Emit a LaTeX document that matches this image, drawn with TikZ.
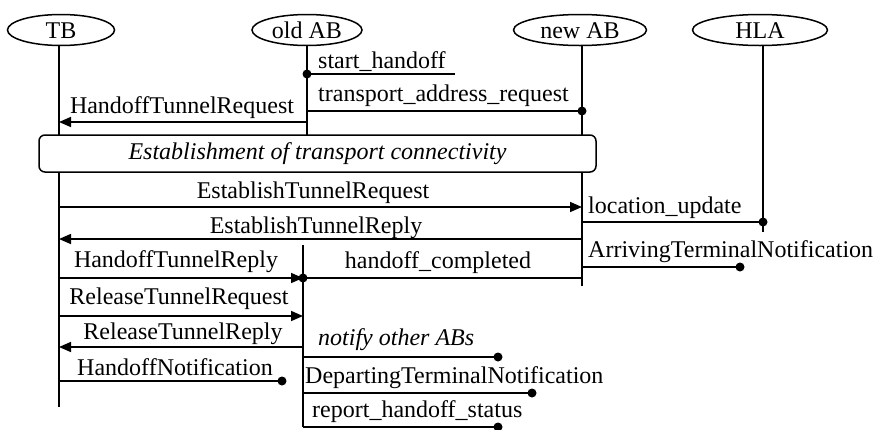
\documentclass[tikz,border=0pt]{standalone}
\usepackage{fontspec}
\setmainfont{Liberation Serif}
\usetikzlibrary{arrows.meta,shapes.geometric}
\begin{document}
\begin{tikzpicture}[x=1pt,y=-1pt,
  every node/.style={font=\fontsize{24}{28}\selectfont},
  actor/.style={draw, ellipse, line width=1.5pt, minimum height=31pt, inner sep=0pt,
                text height=16pt, text depth=0pt},
  life/.style={line width=1.6pt},
  msgline/.style={line width=1.6pt},
  arr/.style={msgline, -{Triangle[length=12pt,width=10pt]}},
  lbl/.style={anchor=base west, inner sep=0pt},
  lblc/.style={anchor=base, inner sep=0pt},
  dot/.style={circle, fill, inner sep=0pt, minimum size=9pt},
  phase/.style={draw, fill=white, rounded corners=6pt, line width=1.5pt,
                minimum width=557pt, minimum height=37pt, inner sep=0pt}
]
\useasboundingbox (0,0) rectangle (879,429);

% participants
\node[actor, minimum width=107pt] (tb)  at (61,30)  {TB};
\node[actor, minimum width=110pt] (oab) at (307,30) {old AB};
\node[actor, minimum width=133pt] (nab) at (580,30) {new AB};
\node[actor, minimum width=135pt] (hla) at (760,30) {HLA};

% lifeline ends
\coordinate (tbT)  at (59,45);   \coordinate (tbB)  at (59,407);
\coordinate (oabT) at (307,45);  \coordinate (oabM) at (307,135);
\coordinate (oabL) at (303,245); \coordinate (oabB) at (303,427);
\coordinate (nabT) at (582,45);  \coordinate (nabB) at (582,286);
\coordinate (hlaT) at (763,45);  \coordinate (hlaB) at (763,232);

\draw[life] (tbT) -- (tbB);
\draw[life] (oabT) -- (oabM);
\draw[life] (oabL) -- (oabB);
\draw[life] (nabT) -- (nabB);
\draw[life] (hlaT) -- (hlaB);

% phase box
\node[phase] (est) at (317.5,153.5) {\itshape Establishment of transport connectivity};

% start_handoff
\node[dot] (d1) at (oabT |- 0,74) {};
\coordinate (e1) at (455,74);
\draw[msgline] (d1.center) -- (e1);
\node[lbl] (l1) at (318,68) {start\_handoff};

% transport_address_request
\node[dot] (d2) at (nabT |- 0,111) {};
\draw[msgline] (oabT |- d2) -- (d2.center);
\node[lbl] (l2) at (318,101) {transport\_address\_request};

% HandoffTunnelRequest
\draw[arr] (oabT |- 0,122) -- (tbT |- 0,122);
\node[lblc] (l3) at (182,113) {HandoffTunnelRequest};

% EstablishTunnelRequest
\draw[arr] (tbT |- 0,207) -- (nabT |- 0,207);
\node[lblc] (l4) at (313,198) {EstablishTunnelRequest};

% location_update
\node[dot] (d5) at (hlaT |- 0,222) {};
\draw[msgline] (nabT |- d5) -- (d5.center);
\node[lbl] (l5) at (588,213) {location\_update};

% EstablishTunnelReply
\draw[arr] (nabT |- 0,239) -- (tbT |- 0,239);
\node[lblc] (l6) at (316,233) {EstablishTunnelReply};

% ArrivingTerminalNotification
\node[dot] (d7) at (740,267) {};
\draw[msgline] (nabT |- d7) -- (d7.center);
\node[lbl] (l7) at (588,257) {ArrivingTerminalNotification};

% HandoffTunnelReply and handoff_completed
\draw[arr] (tbT |- 0,278) -- (oabL |- 0,278);
\node[lblc] (l8) at (176,267) {HandoffTunnelReply};
\node[dot] (d9) at (oabL |- 0,278) {};
\draw[msgline] (nabT |- d9) -- (d9.center);
\node[lblc] (l9) at (438,268) {handoff\_completed};

% ReleaseTunnelRequest
\draw[arr] (tbT |- 0,316) -- (oabL |- 0,316);
\node[lblc] (l10) at (179,304) {ReleaseTunnelRequest};

% ReleaseTunnelReply
\draw[arr] (oabL |- 0,347) -- (tbT |- 0,347);
\node[lblc] (l11) at (183,339) {ReleaseTunnelReply};

% HandoffNotification
\node[dot] (d12) at (282,381) {};
\draw[msgline] (tbT |- d12) -- (d12.center);
\node[lblc] (l12) at (175,375) {HandoffNotification};

% notify other ABs
\node[dot] (d13) at (498,357) {};
\draw[msgline] (oabL |- d13) -- (d13.center);
\node[lbl] (l13) at (318,345) {\itshape notify other ABs};

% DepartingTerminalNotification
\node[dot] (d14) at (532,393) {};
\draw[msgline] (oabL |- d14) -- (d14.center);
\node[lbl] (l14) at (305,383) {DepartingTerminalNotification};

% report_handoff_status
\node[dot] (d15) at (498,427) {};
\draw[msgline] (oabL |- d15) -- (d15.center);
\node[lbl] (l15) at (312,417) {report\_handoff\_status};
\end{tikzpicture}
\end{document}
